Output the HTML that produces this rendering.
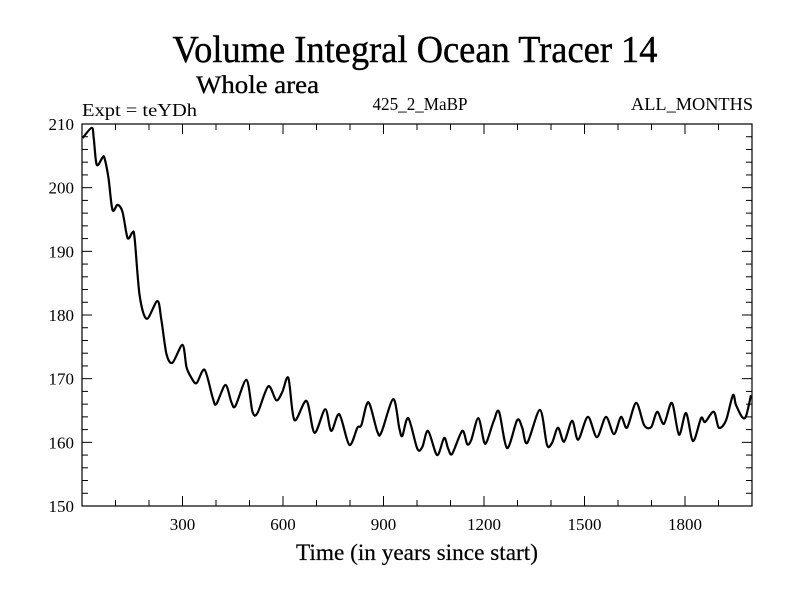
<!DOCTYPE html>
<html><head><meta charset="utf-8"><style>
body{margin:0;background:#fff}
svg{display:block;font-family:"Liberation Serif",serif}
</style></head><body>
<svg id="c" width="800" height="600" viewBox="0 0 800 600">
<rect width="800" height="600" fill="#fff"/>
<text x="415" y="62" font-size="38" text-anchor="middle" textLength="485" lengthAdjust="spacingAndGlyphs" stroke="#000" stroke-width="0.4">Volume Integral Ocean Tracer 14</text>
<text x="196" y="93" font-size="25" textLength="123" lengthAdjust="spacingAndGlyphs" stroke="#000" stroke-width="0.3">Whole area</text>
<text x="82" y="116" font-size="18" textLength="115" lengthAdjust="spacingAndGlyphs">Expt = teYDh</text>
<text x="420" y="110" font-size="18" text-anchor="middle" textLength="95" lengthAdjust="spacingAndGlyphs">425_2_MaBP</text>
<text x="753" y="110" font-size="18" text-anchor="end" textLength="122" lengthAdjust="spacingAndGlyphs">ALL_MONTHS</text>
<text x="417" y="560" font-size="23" text-anchor="middle" textLength="242" lengthAdjust="spacingAndGlyphs" stroke="#000" stroke-width="0.2">Time (in years since start)</text>
<g id="axes"></g>
<path id="line" fill="none" stroke="#000" stroke-width="2.2" stroke-linejoin="round"/>
<rect x="82" y="124" width="670" height="382" fill="none" stroke="#000" stroke-width="1.2"/>
</svg>
<script>
const years=[2,29,35,44,61,67,79,91,106,121,136,151,157,172,193,225,237,252,270,300,312,327,342,366,390,401,428,446,458,491,509,524,556,580,598,616,634,670,694,726,744,768,798,822,834,855,882,894,929,947,956,974,1001,1016,1033,1060,1081,1093,1105,1135,1150,1162,1183,1200,1209,1230,1245,1269,1299,1314,1329,1367,1388,1403,1421,1439,1463,1481,1510,1537,1564,1588,1609,1627,1654,1678,1699,1717,1737,1761,1782,1803,1824,1848,1860,1886,1901,1922,1943,1952,1970,1982,1997];
const values=[207.8,209.4,207.8,203.6,204.7,204.7,201.5,196.5,197.3,196.2,192.1,193.0,192.1,183.1,179.4,182.2,179.2,173.9,172.5,175.3,171.8,170.1,169.3,171.4,167.0,166.0,169.0,166.3,165.7,169.8,164.8,164.6,168.8,166.6,167.9,170.1,163.5,166.5,161.5,165.2,161.8,164.4,159.6,162.3,162.7,166.3,161.6,161.6,166.8,162.3,161.0,163.8,159.0,159.3,161.8,158.0,160.7,159.0,158.2,161.8,159.7,160.4,163.8,160.1,160.2,163.5,164.8,159.1,163.5,162.3,159.9,165.1,159.6,159.9,162.3,160.1,163.4,160.4,164.0,160.8,164.0,161.3,164.0,162.3,166.2,162.7,162.4,164.8,162.9,166.2,161.2,164.6,160.2,163.8,163.2,164.8,162.3,163.4,167.4,165.9,164.0,164.1,167.4];
const xTicks=[300,600,900,1200,1500,1800];
const yTicks=[150,160,170,180,190,200,210];
const X0=82,X1=752,Y0=124,Y1=506,XMIN=0,XMAX=2000,YMIN=150,YMAX=210;
const sx=v=>X0+(v-XMIN)/(XMAX-XMIN)*(X1-X0);
const sy=v=>Y1-(v-YMIN)/(YMAX-YMIN)*(Y1-Y0);
const NS='http://www.w3.org/2000/svg';
const ax=document.getElementById('axes');
function ln(x1,y1,x2,y2,name){const l=document.createElementNS(NS,'line');l.setAttribute('x1',x1);l.setAttribute('y1',y1);l.setAttribute('x2',x2);l.setAttribute('y2',y2);l.setAttribute('stroke','#000');l.setAttribute('stroke-width','1');


ax.appendChild(l);}
for(let v=100;v<XMAX;v+=100){const x=sx(v);const L=(v%300===0)?10:6;ln(x,Y1,x,Y1-L,'x-tick');ln(x,Y0,x,Y0+L,'x-tick-top');}
for(let v=YMIN+2;v<YMAX;v+=2){const y=sy(v);const L=(v%10===0)?10:6;ln(X0,y,X0+L,y,'y-tick');ln(X1,y,X1-L,y,'y-tick-right');}
xTicks.forEach(v=>{const t=document.createElementNS(NS,'text');t.setAttribute('x',sx(v));t.setAttribute('y',Y1+24);t.setAttribute('font-size','17');t.setAttribute('text-anchor','middle');t.textContent=v;


ax.appendChild(t);});
yTicks.forEach(v=>{const t=document.createElementNS(NS,'text');t.setAttribute('x',X0-8);t.setAttribute('y',sy(v)+6);t.setAttribute('font-size','17');t.setAttribute('text-anchor','end');t.textContent=v;


ax.appendChild(t);});
const P=years.map((y,i)=>[sx(y),sy(values[i])]);
let d='M'+P[0][0].toFixed(1)+','+P[0][1].toFixed(1);
for(let i=0;i<P.length-1;i++){const p0=P[i-1]||P[i],p1=P[i],p2=P[i+1],p3=P[i+2]||p2;const k=0.15;
const c1=[p1[0]+(p2[0]-p0[0])*k,p1[1]+(p2[1]-p0[1])*k],c2=[p2[0]-(p3[0]-p1[0])*k,p2[1]-(p3[1]-p1[1])*k];
d+='C'+c1[0].toFixed(1)+','+c1[1].toFixed(1)+' '+c2[0].toFixed(1)+','+c2[1].toFixed(1)+' '+p2[0].toFixed(1)+','+p2[1].toFixed(1);}
document.getElementById('line').setAttribute('d',d);
</script>
</body></html>
